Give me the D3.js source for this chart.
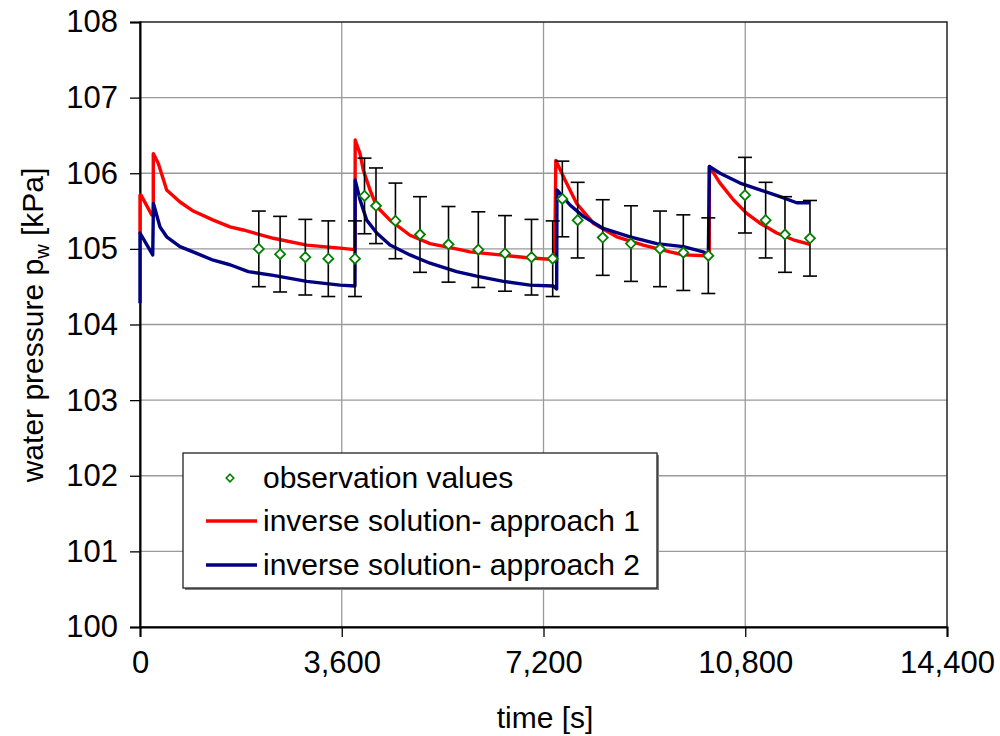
<!DOCTYPE html>
<html>
<head>
<meta charset="utf-8">
<script src="https://cdn.jsdelivr.net/npm/d3@7"></script>
<style>
  body { margin: 0; background: #fff; }
  svg text { font-family: "Liberation Sans", Arial, sans-serif; fill: #000; }
</style>
</head>
<body>
<script>
// observation values (time [s], pressure [kPa]), error bar +/- 0.5 kPa
var obsTime = [2120, 2500, 2950, 3360, 3836, 4006, 4211, 4558, 4996, 5505, 6037, 6513, 6986, 7364,
               7536, 7810, 8257, 8761, 9279, 9695, 10141, 10795, 11164, 11509, 11955];
var obsValue = [105.00, 104.93, 104.89, 104.87, 104.87, 105.70, 105.57, 105.37, 105.19, 105.06, 104.99, 104.94, 104.89, 104.87,
                105.66, 105.38, 105.15, 105.07, 105.00, 104.95, 104.91, 105.71, 105.38, 105.19, 105.14];
var obsError = 0.5;

// inverse solution - approach 1
var redTime = [0, 0, 18, 209, 237, 237, 327, 476, 714, 951, 1308, 1606, 1843, 2379, 2975, 3569, 3836,
               3840, 3926, 3985, 4104, 4224, 4461, 4818, 5175, 5710, 5889, 6424, 6959, 7400,
               7420, 7584, 7792, 8089, 8506, 8981, 9457, 9695, 10112, 10158,
               10160, 10350, 10587, 10826, 11063, 11361, 11657, 11955];
var redValue = [105.20, 105.71, 105.71, 105.45, 105.45, 106.26, 106.13, 105.78, 105.62, 105.50, 105.38, 105.29, 105.25, 105.14, 105.05, 105.01, 104.99,
                106.44, 106.26, 106.04, 105.78, 105.56, 105.38, 105.18, 105.07, 104.99, 104.96, 104.92, 104.88, 104.86,
                106.17, 105.91, 105.60, 105.34, 105.16, 105.05, 104.96, 104.92, 104.91, 104.91,
                106.09, 105.87, 105.65, 105.47, 105.34, 105.21, 105.12, 105.06];

// inverse solution - approach 2
var blueTime = [0, 0, 227, 240, 357, 476, 714, 1012, 1308, 1606, 1933, 2379, 2975, 3569, 3836,
                3840, 3926, 4045, 4224, 4461, 4818, 5175, 5651, 6008, 6483, 6959, 7375, 7435,
                7440, 7673, 7910, 8267, 8744, 9220, 9695, 10052, 10141,
                10160, 10350, 10706, 11063, 11420, 11718, 11955];
var blueValue = [104.28, 105.21, 104.92, 105.60, 105.29, 105.16, 105.03, 104.94, 104.85, 104.79, 104.70, 104.65, 104.57, 104.52, 104.51,
                 105.91, 105.65, 105.38, 105.21, 105.05, 104.92, 104.81, 104.70, 104.64, 104.57, 104.52, 104.51, 104.47,
                 105.78, 105.58, 105.43, 105.27, 105.16, 105.07, 105.03, 104.96, 104.92,
                 106.09, 106.00, 105.87, 105.78, 105.69, 105.61, 105.61];

var xTicks = [0, 3600, 7200, 10800, 14400];
var yTicks = [100, 101, 102, 103, 104, 105, 106, 107, 108];
var legendLabels = ["observation values", "inverse solution- approach 1", "inverse solution- approach 2"];

var w = 1000, h = 736;
var pLeft = 140, pRight = 947, pTop = 22, pBottom = 627;
var fs = 30, tickFs = 31;

var svg = d3.select("body").append("svg")
    .attr("width", w)
    .attr("height", h);

var x = d3.scaleLinear().domain([0, 14400]).range([pLeft, pRight]);
var y = d3.scaleLinear().domain([100, 108]).range([pBottom, pTop]);

// grid
svg.append("g").selectAll("line")
    .data(yTicks.slice(1, -1))
    .enter().append("line")
    .attr("x1", pLeft).attr("x2", pRight)
    .attr("y1", function(d){ return y(d); }).attr("y2", function(d){ return y(d); })
    .attr("stroke", "#9a9a9a").attr("stroke-width", 1.3);
svg.append("g").selectAll("line")
    .data(xTicks.slice(1, -1))
    .enter().append("line")
    .attr("y1", pTop).attr("y2", pBottom)
    .attr("x1", function(d){ return x(d); }).attr("x2", function(d){ return x(d); })
    .attr("stroke", "#9a9a9a").attr("stroke-width", 1.3);

// frame
svg.append("rect")
    .attr("x", pLeft).attr("y", pTop)
    .attr("width", pRight - pLeft).attr("height", pBottom - pTop)
    .attr("fill", "none").attr("stroke", "#222").attr("stroke-width", 1.5);

// axes
var yAxis = d3.axisLeft(y).tickValues(yTicks).tickSize(10).tickPadding(12);
var gy = svg.append("g").attr("transform", "translate(" + pLeft + ",0)").call(yAxis);
var xAxis = d3.axisBottom(x).tickValues(xTicks).tickSize(10).tickFormat(d3.format(",")).tickPadding(14);
var gx = svg.append("g").attr("transform", "translate(0," + pBottom + ")").call(xAxis);
[gx, gy].forEach(function(g){
    g.select(".domain").attr("stroke", "#000").attr("stroke-width", 2);
    g.selectAll(".tick line").attr("stroke", "#000").attr("stroke-width", 1.3);
    g.selectAll("text").attr("font-size", tickFs).attr("font-family", "Liberation Sans, Arial, sans-serif").attr("fill", "#000");
});

// axis titles
svg.append("text")
    .attr("x", 545).attr("y", 728)
    .attr("text-anchor", "middle").attr("font-size", fs)
    .text("time [s]");
var yt = svg.append("text")
    .attr("transform", "translate(43,325) rotate(-90)")
    .attr("text-anchor", "middle").attr("font-size", fs);
yt.append("tspan").text("water pressure p");
yt.append("tspan").attr("font-size", 20).attr("dy", 6).text("w");
yt.append("tspan").attr("dy", -6).text(" [kPa]");

// lines
var line = d3.line()
    .x(function(d){ return x(d[0]); })
    .y(function(d){ return y(d[1]); });

svg.append("path")
    .datum(d3.zip(redTime, redValue))
    .attr("d", line)
    .attr("fill", "none").attr("stroke", "#ff0000").attr("stroke-width", 3.4)
    .attr("stroke-linejoin", "round");
svg.append("path")
    .datum(d3.zip(blueTime, blueValue))
    .attr("d", line)
    .attr("fill", "none").attr("stroke", "#000080").attr("stroke-width", 3.4)
    .attr("stroke-linejoin", "round");

// error bars
var obs = d3.zip(obsTime, obsValue);
var eb = svg.append("g").selectAll("g")
    .data(obs)
    .enter().append("g");
eb.append("line")
    .attr("x1", function(d){ return x(d[0]); }).attr("x2", function(d){ return x(d[0]); })
    .attr("y1", function(d){ return y(d[1] + obsError); }).attr("y2", function(d){ return y(d[1] - obsError); })
    .attr("stroke", "#000").attr("stroke-width", 1.6);
[1, -1].forEach(function(s){
    eb.append("line")
        .attr("x1", function(d){ return x(d[0]) - 7; }).attr("x2", function(d){ return x(d[0]) + 7; })
        .attr("y1", function(d){ return y(d[1] + s * obsError); }).attr("y2", function(d){ return y(d[1] + s * obsError); })
        .attr("stroke", "#000").attr("stroke-width", 1.6);
});

// diamonds
var diamond = d3.symbol().type(d3.symbolDiamond2).size(64);
svg.append("g").selectAll("path")
    .data(obs)
    .enter().append("path")
    .attr("d", diamond)
    .attr("transform", function(d){ return "translate(" + x(d[0]) + "," + y(d[1]) + ")"; })
    .attr("fill", "#fff").attr("stroke", "#008000").attr("stroke-width", 1.8);

// legend
var lg = svg.append("g");
lg.append("rect")
    .attr("x", 185).attr("y", 455).attr("width", 474).attr("height", 135)
    .attr("fill", "#808080");
lg.append("rect")
    .attr("x", 183).attr("y", 453).attr("width", 474).attr("height", 135)
    .attr("fill", "#fff").attr("stroke", "#222").attr("stroke-width", 1.3);
var rowY = [478, 521, 565];
lg.append("path")
    .attr("d", d3.symbol().type(d3.symbolDiamond2).size(36))
    .attr("transform", "translate(230," + rowY[0] + ")")
    .attr("fill", "#fff").attr("stroke", "#008000").attr("stroke-width", 1.6);
lg.append("line").attr("x1", 206).attr("x2", 257).attr("y1", rowY[1]).attr("y2", rowY[1])
    .attr("stroke", "#ff0000").attr("stroke-width", 3.4);
lg.append("line").attr("x1", 206).attr("x2", 257).attr("y1", rowY[2]).attr("y2", rowY[2])
    .attr("stroke", "#000080").attr("stroke-width", 3.4);
lg.selectAll("text.lab")
    .data(legendLabels)
    .enter().append("text")
    .attr("class", "lab")
    .attr("x", 263)
    .attr("y", function(d, i){ return rowY[i] + 10; })
    .attr("font-size", fs)
    .text(function(d){ return d; });
</script>
</body>
</html>
